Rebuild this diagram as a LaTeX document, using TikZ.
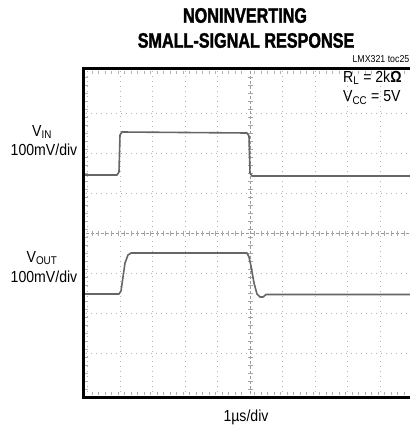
\documentclass[tikz,border=0pt]{standalone}
\usepackage{fontspec}
\setmainfont{Liberation Sans}
\newfontfamily\titlefont[FakeStretch=0.77,BoldFont={Liberation Sans Bold},BoldFeatures={FakeBold=1.6}]{Liberation Sans}
\newfontfamily\labfont[FakeStretch=0.88]{Liberation Sans}
\begin{document}
\begin{tikzpicture}[x=1pt,y=-1pt,
  lab/.style={font=\labfont\fontsize{16}{18}\selectfont, inner sep=0pt},
  ttl/.style={font=\titlefont\bfseries\fontsize{21}{24}\selectfont, inner sep=0pt},
  gridln/.style={black!30, line width=0.8pt, dash pattern=on 1pt off 4pt},
  trace/.style={black!60, line width=1.6pt, line join=round}]
\useasboundingbox (0,0) rectangle (410,429);
% title
\node[ttl] (t1) at (245,15.5) {NONINVERTING};
\node[ttl] (t2) at (246,40.5) {SMALL-SIGNAL RESPONSE};
\node[inner sep=0pt, anchor=east, font=\labfont\fontsize{10}{11}\selectfont] (toc) at (409.5,59) {LMX321 toc25};
% grid
\foreach \x in {87.5,120,152.5,185,217.5,282.5,315,347.5,380}
  \draw[gridln] (\x,71) -- (\x,395);
\foreach \y in {113,153,193,273,313,353}
  \draw[gridln] (86,\y) -- (410,\y);
% centre axes with ticks
\draw[black!40, line width=0.8pt, dash pattern=on 3pt off 2pt] (86,233) -- (410,233);
\draw[black!40, line width=0.8pt, dash pattern=on 3pt off 2pt] (250,71) -- (250,395);
\foreach \x in {92,98.5,105,111.5,118,124.5,131,137.5,144,150.5,157,163.5,170,176.5,183,189.5,196,202.5,209,215.5,222,228.5,235,241.5,254.5,261,267.5,274,280.5,287,293.5,300,306.5,313,319.5,326,332.5,339,345.5,352,358.5,365,371.5,378,384.5,391,397.5,404}
  \draw[black!35, line width=0.7pt] (\x,230.5) -- (\x,235.5);
\foreach \y in {77,85,93,101,109,117,125,133,141,149,157,165,173,181,189,197,205,213,221,229,237,245,253,261,269,277,285,293,301,309,317,325,333,341,349,357,365,373,381,389}
  \draw[black!35, line width=0.7pt] (247.5,\y) -- (252.5,\y);
% edge ticks
\foreach \y in {77,85,93,101,109,117,125,133,141,149,157,165,173,181,189,197,205,213,221,229,237,245,253,261,269,277,285,293,301,309,317,325,333,341,349,357,365,373,381,389}
  \draw[black!30, line width=0.7pt] (85,\y) -- (88,\y);
\foreach \x in {92,98.5,105,111.5,118,124.5,131,137.5,144,150.5,157,163.5,170,176.5,183,189.5,196,202.5,209,215.5,222,228.5,235,241.5,254.5,261,267.5,274,280.5,287,293.5,300,306.5,313,319.5,326,332.5,339,345.5,352,358.5,365,371.5,378,384.5,391,397.5,404}
  {\draw[black!30, line width=0.7pt] (\x,71) -- (\x,74);
   \draw[black!30, line width=0.7pt] (\x,392) -- (\x,395);}
% traces
\draw[trace] (85,175) -- (117,175) -- (119,172) -- (120,135) -- (122,132) -- (247,133) -- (249,136) -- (250,173) -- (252,176) -- (412,176);
\draw[trace] (85,294) -- (119,294) -- (121,291) -- (125,263) -- (128,255) -- (131,253) -- (247,253) -- (249,257) -- (251,266) -- (254,283) -- (257,294) -- (260,297) -- (263,297) -- (266,294.5) -- (412,294.5);
% frame
\draw[black, line width=3pt] (412,68) -- (83,68) -- (83,397) -- (412,397);
% labels
\node[lab] (vin) at (42,132) {V\textsubscript{IN}};
\node[lab] (vinsc) at (44,150) {100mV/div};
\node[lab] (vout) at (42,258) {V\textsubscript{OUT}};
\node[lab] (voutsc) at (44,277) {100mV/div};
\node[lab, anchor=west] (rl) at (343,77.5) {R\textsubscript{L} = 2k{\bfseries Ω}};
\node[lab, anchor=west] (vcc) at (343,97.5) {V\textsubscript{CC} = 5V};
\node[lab] (tdiv) at (246,417) {1µs/div};
\end{tikzpicture}
\end{document}
